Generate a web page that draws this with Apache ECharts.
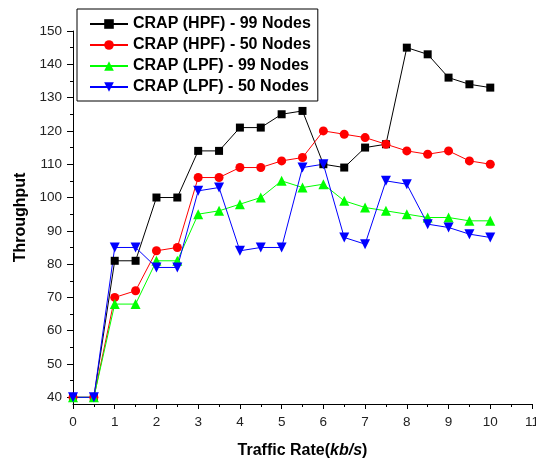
<!DOCTYPE html>
<html>
<head>
<meta charset="utf-8">
<script src="https://cdn.jsdelivr.net/npm/echarts@6/dist/echarts.min.js"></script>
<style>
html,body{margin:0;padding:0;background:#fff;}
#chart{width:536px;height:460px;}
</style>
</head>
<body>
<div id="chart"></div>
<script>
var xValues = [0, 0.5, 1, 1.5, 2, 2.5, 3, 3.5, 4, 4.5, 5, 5.5, 6, 6.5, 7, 7.5, 8, 8.5, 9, 9.5, 10];
var hpf99 = [40, 40, 81, 81, 100, 100, 114, 114, 121, 121, 125, 126, 110, 109, 115, 116, 145, 143, 136, 134, 133];
var hpf50 = [40, 40, 70, 72, 84, 85, 106, 106, 109, 109, 111, 112, 120, 119, 118, 116, 114, 113, 114, 111, 110];
var lpf99 = [40, 40, 68, 68, 81, 81, 95, 96, 98, 100, 105, 103, 104, 99, 97, 96, 95, 94, 94, 93, 93];
var lpf50 = [40, 40, 85, 85, 79, 79, 102, 103, 84, 85, 85, 109, 110, 88, 86, 105, 104, 92, 91, 89, 88];
var seriesNames = ['CRAP (HPF) - 99 Nodes', 'CRAP (HPF) - 50 Nodes', 'CRAP (LPF) - 99 Nodes', 'CRAP (LPF) - 50 Nodes'];
var yMajorTicks = [40, 50, 60, 70, 80, 90, 100, 110, 120, 130, 140, 150];
var yMinorTicks = [45, 55, 65, 75, 85, 95, 105, 115, 125, 135, 145];

var FONT = '"Liberation Sans", Arial, Helvetica, sans-serif';

function pairs(ys) {
  return xValues.map(function (x, i) { return [x, ys[i]]; });
}

function mkSeries(name, data, color, symbol, size, rotate) {
  return {
    name: name,
    type: 'line',
    data: pairs(data),
    xAxisIndex: 0,
    yAxisIndex: 0,
    symbol: symbol,
    symbolSize: size,
    symbolRotate: rotate || 0,
    showAllSymbol: true,
    lineStyle: { color: color, width: 1 },
    itemStyle: { color: color, borderWidth: 0 },
    emphasis: { disabled: true },
    animation: false,
    z: 3
  };
}

var chart = echarts.init(document.getElementById('chart'), null, { renderer: 'canvas' });

chart.setOption({
  backgroundColor: '#ffffff',
  animation: false,
  textStyle: { fontFamily: FONT },
  grid: { left: 73, right: 4, top: 31, bottom: 56, containLabel: false, outerBoundsMode: 'none' },
  legend: {
    data: seriesNames,
    orient: 'vertical',
    left: 77,
    top: 9,
    padding: [7, 7, 6, 12],
    itemWidth: 38,
    itemHeight: 12,
    itemGap: 5,
    borderColor: '#000',
    borderWidth: 1,
    backgroundColor: '#fff',
    textStyle: { fontFamily: FONT, fontSize: 16, fontWeight: 'bold', color: '#000', lineHeight: 16 },
    z: 10
  },
  xAxis: {
    type: 'value',
    min: 0,
    max: 11,
    interval: 1,
    name: '{b|Traffic Rate(}{bi|kb/s}{b|)}',
    nameLocation: 'middle',
    nameGap: 39,
    nameTextStyle: {
      rich: {
        b: { fontFamily: FONT, fontSize: 16, fontWeight: 'bold', color: '#000' },
        bi: { fontFamily: FONT, fontSize: 16, fontWeight: 'bold', fontStyle: 'italic', color: '#000' }
      }
    },
    axisLine: { show: true, onZero: false, lineStyle: { color: '#000', width: 1 } },
    axisTick: { show: true, inside: false, length: 5, lineStyle: { color: '#000' } },
    minorTick: { show: true, splitNumber: 2, length: 3, lineStyle: { color: '#000' } },
    splitLine: { show: false },
    minorSplitLine: { show: false },
    axisLabel: { fontFamily: FONT, fontSize: 13.5, color: '#222', margin: 11, showMaxLabel: true, hideOverlap: false }
  },
  yAxis: [{
    type: 'value',
    min: 38,
    max: 150,
    name: 'Throughput',
    nameLocation: 'middle',
    nameGap: 36,
    nameTextStyle: { fontFamily: FONT, fontSize: 16, fontWeight: 'bold', color: '#000' },
    axisLine: { show: true, onZero: false, lineStyle: { color: '#000', width: 1 } },
    axisTick: { show: true, inside: false, length: 6, customValues: yMajorTicks, lineStyle: { color: '#000' } },
    splitLine: { show: false },
    axisLabel: { fontFamily: FONT, fontSize: 13.5, color: '#222', margin: 11, customValues: yMajorTicks, hideOverlap: false }
  }, {
    type: 'value',
    min: 38,
    max: 150,
    position: 'left',
    axisLine: { show: false },
    axisTick: { show: true, inside: false, length: 3, customValues: yMinorTicks, lineStyle: { color: '#000' } },
    axisLabel: { show: false },
    splitLine: { show: false }
  }],
  series: [
    mkSeries(seriesNames[0], hpf99, '#000000', 'rect', 8),
    mkSeries(seriesNames[1], hpf50, '#ff0000', 'circle', 9),
    mkSeries(seriesNames[2], lpf99, '#00ff00', 'triangle', 10),
    mkSeries(seriesNames[3], lpf50, '#0000ff', 'triangle', 10, 180)
  ]
});
</script>
</body>
</html>
